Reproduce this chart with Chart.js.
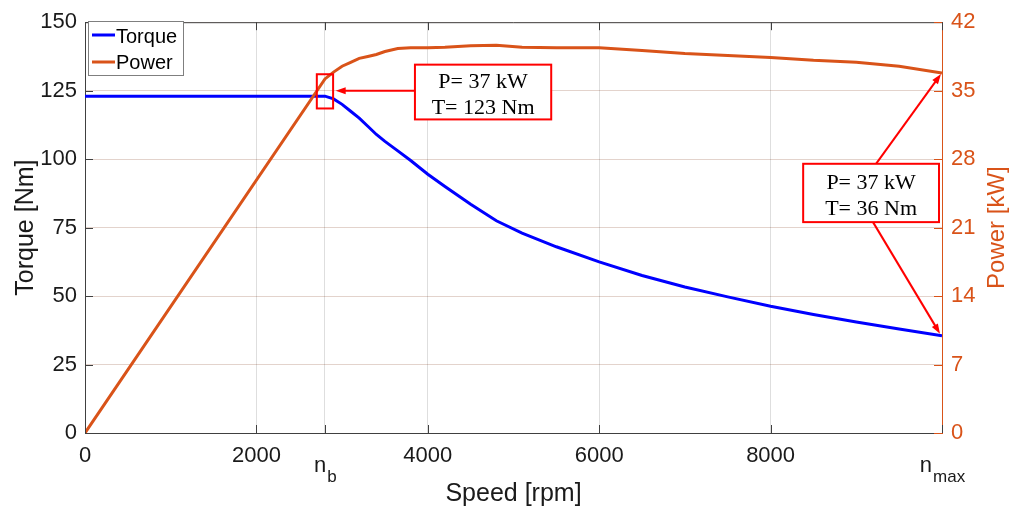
<!DOCTYPE html>
<html>
<head>
<meta charset="utf-8">
<script src="https://cdn.jsdelivr.net/npm/chart.js@4"></script>
<style>
  html, body { margin: 0; padding: 0; background: #fff; }
  #wrap { width: 1015px; height: 512px; }
</style>
</head>
<body>
<div id="wrap"><canvas id="motorChart" width="1015" height="512"></canvas></div>
<script>
// --- DATA ---
const speed  = [0, 2800, 2900, 3000, 3100, 3200, 3300, 3400, 3500, 3650, 3800, 4000, 4200, 4500, 4800, 5100, 5500, 6000, 6500, 7000, 7500, 8000, 8500, 9000, 9500, 10000];
const torque = [123, 123, 122, 120, 117.5, 115, 112, 109, 106.5, 103, 99.5, 94.5, 90, 83.5, 77.5, 73, 68, 62.5, 57.5, 53.3, 49.7, 46.3, 43.3, 40.5, 38, 35.5];
const power  = [0, 36.2, 36.9, 37.5, 37.9, 38.3, 38.5, 38.7, 39.0, 39.3, 39.4, 39.4, 39.45, 39.6, 39.65, 39.45, 39.4, 39.4, 39.1, 38.8, 38.6, 38.4, 38.1, 37.9, 37.5, 36.8];

const xTickValues = [0, 2000, 2800, 4000, 6000, 8000, 10000];
const nb = 2800;     // base speed
const nmax = 10000;  // max speed

const noteBase = ["P= 37 kW", "T= 123 Nm"];
const noteMax  = ["P= 37 kW", "T= 36 Nm"];

const BLUE = "#0000ff";
const ORANGE = "#d95319";
const RED = "#ff0000";
const AXIS = "#404040";

// --- helpers for the extra drawing ---
function arrow(ctx, x1, y1, x2, y2) {
  const ang = Math.atan2(y2 - y1, x2 - x1);
  const len = 10, hw = 3.5;
  ctx.beginPath();
  ctx.moveTo(x1, y1);
  ctx.lineTo(x2 - Math.cos(ang) * len * 0.6, y2 - Math.sin(ang) * len * 0.6);
  ctx.stroke();
  ctx.beginPath();
  ctx.moveTo(x2, y2);
  ctx.lineTo(x2 - Math.cos(ang) * len - Math.sin(ang) * hw, y2 - Math.sin(ang) * len + Math.cos(ang) * hw);
  ctx.lineTo(x2 - Math.cos(ang) * len + Math.sin(ang) * hw, y2 - Math.sin(ang) * len - Math.cos(ang) * hw);
  ctx.closePath();
  ctx.fill();
}

function noteBox(ctx, x1, y1, x2, y2, lines) {
  ctx.fillStyle = "#fff";
  ctx.fillRect(x1, y1, x2 - x1, y2 - y1);
  ctx.strokeStyle = RED;
  ctx.lineWidth = 2;
  ctx.strokeRect(x1, y1, x2 - x1, y2 - y1);
  ctx.fillStyle = "#000";
  ctx.font = '22px "Liberation Serif", "Times New Roman", serif';
  ctx.textAlign = "center";
  ctx.textBaseline = "alphabetic";
  const cx = (x1 + x2) / 2;
  const mid = (y1 + y2) / 2;
  ctx.fillText(lines[0], cx, mid - 4);
  ctx.fillText(lines[1], cx, mid + 22);
}

// draws frame ticks, legend, axis titles, subscripts and the red notes
const extras = {
  id: "extras",
  afterDatasetsDraw(chart) {
    const ctx = chart.ctx;
    const a = chart.chartArea;
    const xs = chart.scales.x, yl = chart.scales.y, yr = chart.scales.y1;
    const X = v => xs.getPixelForValue(v);
    const YT = v => yl.getPixelForValue(v);
    const YP = v => yr.getPixelForValue(v);
    ctx.save();

    // top border
    ctx.strokeStyle = AXIS;
    ctx.lineWidth = 1;
    ctx.beginPath();
    ctx.moveTo(a.left, a.top + 0.5);
    ctx.lineTo(a.right, a.top + 0.5);
    ctx.stroke();

    // inside tick marks
    const tl = 8;
    ctx.beginPath();
    xTickValues.forEach(v => {
      const px = Math.round(X(v)) + 0.5;
      ctx.moveTo(px, a.bottom); ctx.lineTo(px, a.bottom - tl);
      ctx.moveTo(px, a.top); ctx.lineTo(px, a.top + tl);
    });
    yl.ticks.forEach(t => {
      const py = Math.round(YT(t.value)) + 0.5;
      ctx.moveTo(a.left, py); ctx.lineTo(a.left + tl, py);
    });
    ctx.stroke();
    ctx.strokeStyle = ORANGE;
    ctx.beginPath();
    yr.ticks.forEach(t => {
      const py = Math.round(YP(t.value)) + 0.5;
      ctx.moveTo(a.right, py); ctx.lineTo(a.right - tl, py);
    });
    ctx.stroke();

    // subscripted tick labels n_b and n_max
    ctx.fillStyle = "#1a1a1a";
    ctx.textBaseline = "alphabetic";
    ctx.textAlign = "left";
    const subLabel = (v, sub) => {
      ctx.font = '22px "Liberation Sans", Arial, sans-serif';
      const wn = ctx.measureText("n").width;
      ctx.font = '17px "Liberation Sans", Arial, sans-serif';
      const ws = ctx.measureText(sub).width;
      const x0 = X(v) - (wn + ws) / 2;
      ctx.font = '22px "Liberation Sans", Arial, sans-serif';
      ctx.fillText("n", x0, 472);
      ctx.font = '17px "Liberation Sans", Arial, sans-serif';
      ctx.fillText(sub, x0 + wn + 1, 482);
    };
    subLabel(nb, "b");
    subLabel(nmax, "max");

    // axis titles
    ctx.font = '25px "Liberation Sans", Arial, sans-serif';
    ctx.textAlign = "center";
    ctx.fillStyle = "#1a1a1a";
    ctx.fillText("Speed [rpm]", (a.left + a.right) / 2, 501);
    ctx.save();
    ctx.translate(33, (a.top + a.bottom) / 2);
    ctx.rotate(-Math.PI / 2);
    ctx.fillText("Torque [Nm]", 0, 0);
    ctx.restore();
    ctx.save();
    ctx.fillStyle = ORANGE;
    ctx.font = '24px "Liberation Sans", Arial, sans-serif';
    ctx.translate(1004, (a.top + a.bottom) / 2);
    ctx.rotate(-Math.PI / 2);
    ctx.fillText("Power [kW]", 0, 0);
    ctx.restore();

    // legend
    ctx.fillStyle = "#fff";
    ctx.fillRect(88, 21, 95, 54);
    ctx.strokeStyle = "#7f7f7f";
    ctx.lineWidth = 1;
    ctx.strokeRect(88.5, 21.5, 95, 54);
    ctx.lineWidth = 3;
    ctx.strokeStyle = BLUE;
    ctx.beginPath(); ctx.moveTo(92, 35); ctx.lineTo(115, 35); ctx.stroke();
    ctx.strokeStyle = ORANGE;
    ctx.beginPath(); ctx.moveTo(92, 62); ctx.lineTo(115, 62); ctx.stroke();
    ctx.fillStyle = "#000";
    ctx.font = '20px "Liberation Sans", Arial, sans-serif';
    ctx.textAlign = "left";
    ctx.textBaseline = "middle";
    ctx.fillText("Torque", 116, 37);
    ctx.fillText("Power", 116, 63);

    // red notes
    ctx.strokeStyle = RED;
    ctx.fillStyle = RED;
    ctx.lineWidth = 2;
    // small box round the base-speed point
    ctx.strokeRect(X(nb - 95), YT(131), X(nb + 95) - X(nb - 95), YT(118.5) - YT(131));
    arrow(ctx, X(3850), YT(125), X(nb + 125), YT(125));
    noteBox(ctx, X(3850), YT(134.5), X(5440), YT(114.5), noteBase);

    ctx.strokeStyle = RED;
    ctx.fillStyle = RED;
    ctx.lineWidth = 2;
    arrow(ctx, X(9230), YT(98.3), X(nmax) - 1, YP(power[power.length - 1]) + 1);
    arrow(ctx, X(9195), YT(77), X(nmax) - 2, YT(torque[torque.length - 1]) - 2);
    noteBox(ctx, X(8380), YT(98.3), X(9965), YT(77), noteMax);

    ctx.restore();
  }
};

const whiteBg = {
  id: "whiteBg",
  beforeDraw(chart) {
    const ctx = chart.ctx;
    ctx.save();
    ctx.fillStyle = "#fff";
    ctx.fillRect(0, 0, chart.width, chart.height);
    ctx.restore();
  }
};

const tickFont = { family: '"Liberation Sans", Arial, sans-serif', size: 22 };

new Chart(document.getElementById("motorChart"), {
  type: "line",
  data: {
    datasets: [
      {
        label: "Torque",
        data: speed.map((s, i) => ({ x: s, y: torque[i] })),
        borderColor: BLUE,
        borderWidth: 3,
        pointRadius: 0,
        tension: 0,
        yAxisID: "y",
        order: 1
      },
      {
        label: "Power",
        data: speed.map((s, i) => ({ x: s, y: power[i] })),
        borderColor: ORANGE,
        borderWidth: 3,
        pointRadius: 0,
        tension: 0,
        yAxisID: "y1",
        order: 0
      }
    ]
  },
  options: {
    responsive: false,
    animation: false,
    devicePixelRatio: 1,
    layout: { padding: { top: 18, left: 0, right: 0, bottom: 0 } },
    plugins: {
      legend: { display: false },
      tooltip: { enabled: false }
    },
    scales: {
      x: {
        type: "linear",
        min: 0,
        max: nmax,
        afterBuildTicks: s => { s.ticks = xTickValues.map(v => ({ value: v })); },
        afterFit: s => { s.height = 79; },
        ticks: {
          font: tickFont,
          color: "#1a1a1a",
          padding: 10,
          maxRotation: 0,
          autoSkip: false,
          callback: v => (v === nb || v === nmax) ? "" : String(v)
        },
        grid: { color: "rgba(0,0,0,0.13)", drawTicks: false },
        border: { color: AXIS }
      },
      y: {
        position: "left",
        min: 0,
        max: 150,
        afterFit: s => { s.width = 85; },
        ticks: { stepSize: 25, font: tickFont, color: "#1a1a1a", padding: 8 },
        grid: { color: "rgba(0,0,0,0.1)", drawTicks: false },
        border: { color: AXIS }
      },
      y1: {
        position: "right",
        min: 0,
        max: 42,
        afterFit: s => { s.width = 73; },
        ticks: { stepSize: 7, font: tickFont, color: ORANGE, padding: 9 },
        grid: { color: "rgba(217,83,25,0.12)", drawTicks: false },
        border: { color: ORANGE }
      }
    }
  },
  plugins: [whiteBg, extras]
});
</script>
</body>
</html>
